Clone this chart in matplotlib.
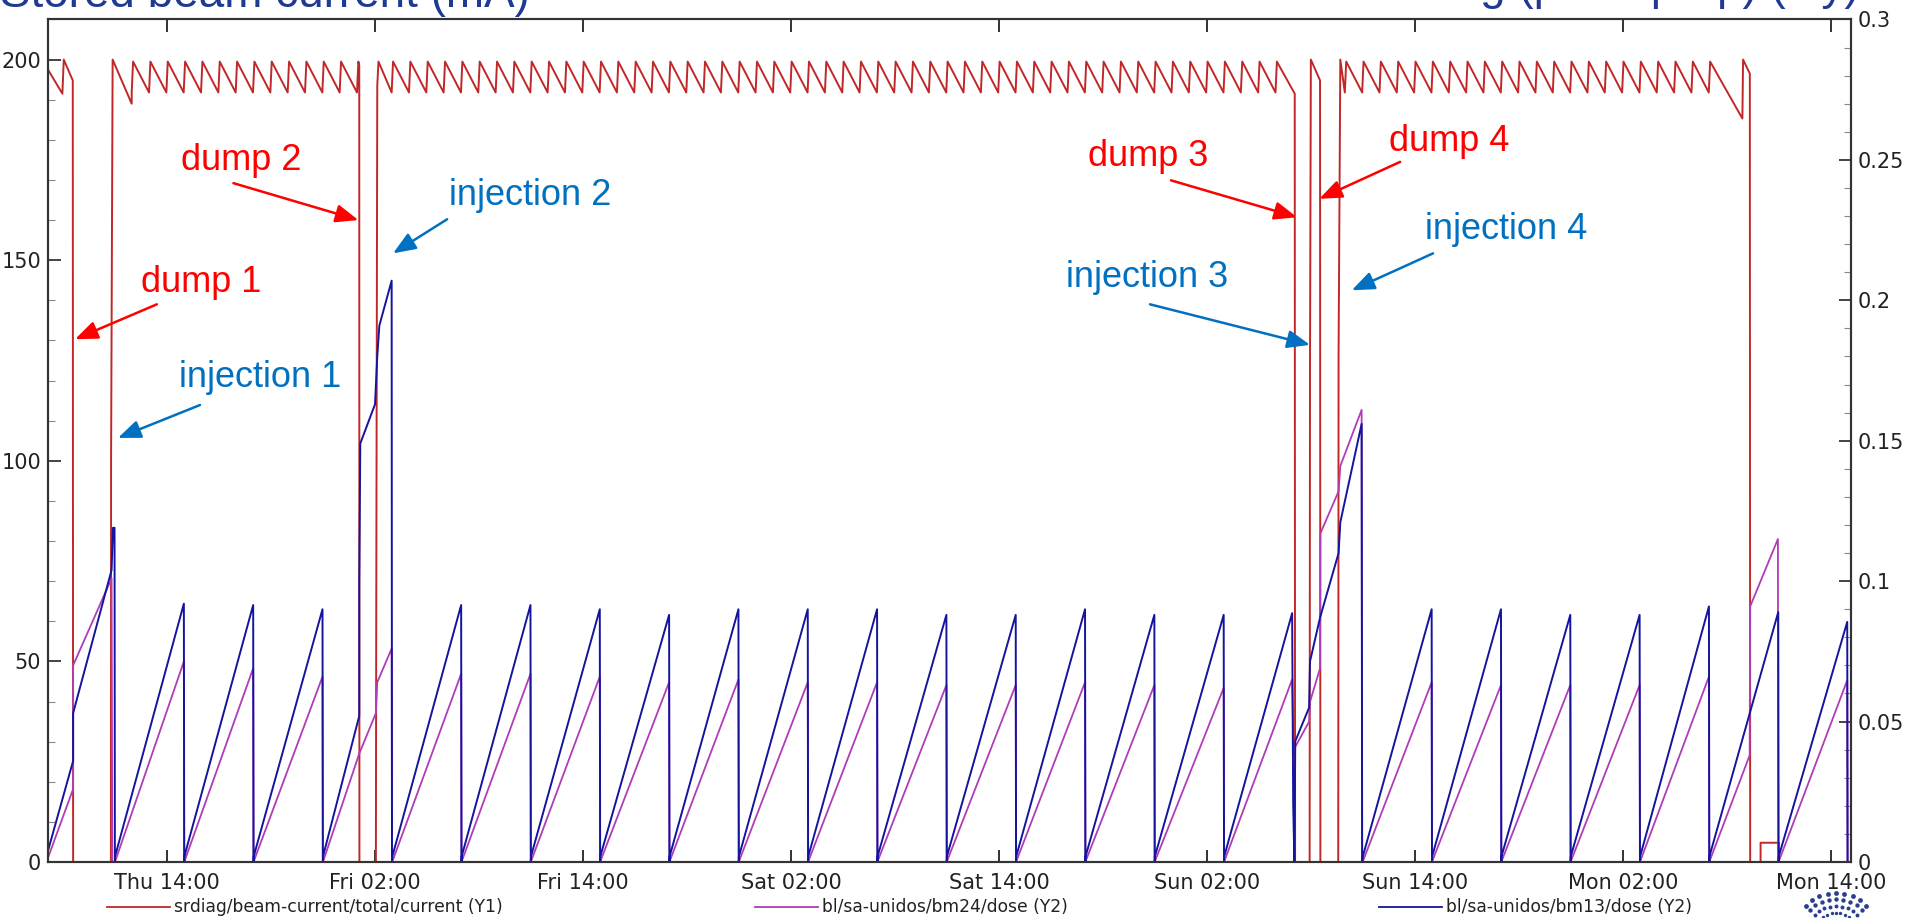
import datetime as dt
import matplotlib
matplotlib.use("Agg")
import matplotlib.pyplot as plt
import matplotlib.dates as mdates
import numpy as np
from matplotlib.lines import Line2D
from matplotlib.ticker import MultipleLocator, FuncFormatter

# hours are counted from Thu 00:00
T0 = dt.datetime(2023, 3, 2)
t_start, t_end = 7.13, 111.17

# ====== beam current (mA) =====
# hourly top-ups inside each fill
topups_fill1 = [12, 13, 14, 15, 16, 17, 18, 19, 20, 21, 22, 23, 24, 25]
topups_fill2 = [27, 28, 29, 30, 31, 32, 33, 34, 35, 36, 37, 38, 39, 40, 41, 42, 43,
                44, 45, 46, 47, 48, 49, 50, 51, 52, 53, 54, 55, 56, 57, 58, 59, 60,
                61, 62, 63, 64, 65, 66, 67, 68, 69, 70, 71, 72, 73, 74, 75, 76, 77, 78]
topups_fill4 = [82, 83, 84, 85, 86, 87, 88, 89, 90, 91, 92, 93, 94, 95, 96, 97, 98,
                99, 100, 101, 102, 103]
peak_current = 199.5
trough_current = 191.8

# pieces between the top-up trains: (hours, mA)
before_dump1 = [(7.13, 197.5), (7.96, 191.5), (8.04, 200), (8.56, 194.8), (8.58, 0),
                (10.76, 0), (10.77, 100), (10.86, 200), (11.96, 189)]
dump2_refill2 = [(25.09, 198.5), (25.10, 0), (26.05, 0), (26.07, 59), (26.13, 193.5),
                 (26.2, 199.5)]
dump3_dump4 = [(79.07, 191.5), (79.09, 0), (79.93, 0), (79.95, 123), (80.0, 200),
               (80.53, 194.8), (80.55, 0), (81.58, 0), (81.6, 127), (81.7, 200)]
end_of_run = [(104.9, 185.3), (104.94, 200), (105.33, 196.5), (105.35, 0), (105.95, 0),
              (105.95, 4.8), (107.0, 4.8), (107.0, 0), (111.17, 0)]

# ====== doses (Y2) =====
bm13_t = [7.13, 8.58, 8.58, 10.80, 10.88, 10.97, 10.99,
          11.0, 14.97, 14.99, 15.0, 18.97, 18.99, 19.0, 22.97, 22.99,
          23.0, 25.09, 25.09, 25.15, 26.0, 26.13, 26.25, 26.96, 26.98,
          27.0, 30.97, 30.99, 31.0, 34.97, 34.99, 35.0, 38.97, 38.99,
          39.0, 42.97, 42.99, 43.0, 46.97, 46.99, 47.0, 50.97, 50.99,
          51.0, 54.97, 54.99, 55.0, 58.97, 58.99, 59.0, 62.97, 62.99,
          63.0, 66.97, 66.99, 67.0, 70.97, 70.99, 71.0, 74.97, 74.99,
          75.0, 78.92, 78.98, 79.05, 79.1, 79.9, 79.95, 80.53, 81.6, 81.7, 82.93, 82.96,
          83.0, 86.97, 86.99, 87.0, 90.97, 90.99, 91.0, 94.97, 94.99,
          95.0, 98.97, 98.99, 99.0, 102.97, 102.99, 103.0, 106.97, 106.99,
          107.0, 110.95, 110.97, 111.17]
bm13_v = [0.004, 0.036, 0.053, 0.104, 0.119, 0.119, 0.0,
          0.002, 0.092, 0.0, 0.002, 0.0915, 0.0, 0.002, 0.090, 0.0,
          0.002, 0.052, 0.099, 0.149, 0.163, 0.180, 0.191, 0.207, 0.0,
          0.002, 0.0915, 0.0, 0.002, 0.0915, 0.0, 0.002, 0.090, 0.0,
          0.002, 0.088, 0.0, 0.002, 0.090, 0.0, 0.002, 0.090, 0.0,
          0.002, 0.090, 0.0, 0.002, 0.088, 0.0, 0.002, 0.088, 0.0,
          0.002, 0.090, 0.0, 0.002, 0.088, 0.0, 0.002, 0.088, 0.0,
          0.002, 0.0886, 0.021, 0.0, 0.043, 0.055, 0.0714, 0.087, 0.110, 0.121, 0.156, 0.0,
          0.002, 0.090, 0.0, 0.002, 0.090, 0.0, 0.002, 0.088, 0.0,
          0.002, 0.088, 0.0, 0.002, 0.091, 0.0, 0.002, 0.089, 0.0,
          0.002, 0.0855, 0.0, 0.0]

bm24_t = [7.13, 8.58, 8.58, 10.80, 10.84, 11.0,
          11.05, 14.97, 14.99, 15.05, 18.97, 18.99, 19.05, 22.97, 22.99,
          23.05, 25.09, 26.05, 26.13, 26.96, 26.98,
          27.05, 30.97, 30.99, 31.05, 34.97, 34.99, 35.05, 38.97, 38.99,
          39.05, 42.97, 42.99, 43.05, 46.97, 46.99, 47.05, 50.97, 50.99,
          51.05, 54.97, 54.99, 55.05, 58.97, 58.99, 59.05, 62.97, 62.99,
          63.05, 66.97, 66.99, 67.05, 70.97, 70.99, 71.05, 74.97, 74.99,
          75.05, 78.92, 79.0, 79.1, 79.9, 79.95, 80.53, 80.55, 81.6, 81.7, 82.93, 82.96,
          83.05, 86.97, 86.99, 87.05, 90.97, 90.99, 91.05, 94.97, 94.99,
          95.05, 98.97, 98.99, 99.05, 102.97, 102.99,
          103.05, 105.32, 105.35, 106.95, 106.97,
          107.05, 110.95, 110.97, 111.17]
bm24_v = [0.0015, 0.026, 0.070, 0.101, 0.0, 0.0,
          0.001, 0.0714, 0.0, 0.001, 0.069, 0.0, 0.001, 0.066, 0.0,
          0.001, 0.0386, 0.053, 0.064, 0.076, 0.0,
          0.001, 0.067, 0.0, 0.001, 0.067, 0.0, 0.001, 0.066, 0.0,
          0.001, 0.064, 0.0, 0.001, 0.065, 0.0, 0.001, 0.064, 0.0,
          0.001, 0.064, 0.0, 0.001, 0.063, 0.0, 0.001, 0.063, 0.0,
          0.001, 0.064, 0.0, 0.001, 0.063, 0.0, 0.001, 0.062, 0.0,
          0.001, 0.065, 0.038, 0.041, 0.050, 0.057, 0.069, 0.117, 0.132, 0.141, 0.161, 0.0,
          0.001, 0.064, 0.0, 0.001, 0.063, 0.0, 0.001, 0.063, 0.0,
          0.001, 0.063, 0.0, 0.001, 0.066, 0.0,
          0.001, 0.038, 0.091, 0.115, 0.0,
          0.001, 0.0647, 0.0, 0.0]

# annotations: label, text position, arrow tail, arrow head (hours, mA)
dump_notes = [("dump 1", (15.96, 144.5), (13.41, 139.0), (8.69, 130.3)),
              ("dump 2", (18.27, 174.8), (17.83, 169.2), (25.04, 160.0)),
              ("dump 3", (70.60, 175.9), (71.93, 169.9), (79.20, 160.7)),
              ("dump 4", (87.98, 179.5), (85.15, 174.5), (80.49, 165.3))]
injection_notes = [("injection 1", (19.37, 120.8), (15.90, 113.9), (11.17, 105.7)),
                   ("injection 2", (34.95, 166.2), (30.16, 160.2), (27.04, 151.7)),
                   ("injection 3", (70.52, 145.6), (70.72, 139.0), (79.95, 128.9)),
                   ("injection 4", (91.29, 157.7), (87.05, 151.7), (82.36, 142.5))]


def when(hours):
    return [T0 + dt.timedelta(hours=h) for h in hours]


def teeth(topups):
    pts = []
    for h in topups:
        pts += [(h - 0.04, trough_current), (h + 0.04, peak_current)]
    return pts


current = (before_dump1 + teeth(topups_fill1) + dump2_refill2 + teeth(topups_fill2)
           + dump3_dump4 + teeth(topups_fill4) + end_of_run)
cur_t = [p[0] for p in current]
cur_v = [p[1] for p in current]

red = "#c02828"
magenta = "#b03cb8"
blue = "#14149c"

W, H = 1909, 918
fig = plt.figure(figsize=(W / 100, H / 100), dpi=100)
ax = fig.add_axes([0.02514, 0.061, 0.9445, 0.9178])
ax2 = ax.twinx()

ax.plot(when(cur_t), cur_v, color=red, lw=1.4)
ax2.plot(when(bm24_t), bm24_v, color=magenta, lw=1.3)
ax2.plot(when(bm13_t), bm13_v, color=blue, lw=1.4)

ax.set_xlim(when([t_start, t_end]))
ax.set_ylim(0, 210)
ax2.set_ylim(0, 0.3)

ax.xaxis.set_major_locator(mdates.HourLocator(byhour=[2, 14]))
ax.xaxis.set_major_formatter(mdates.DateFormatter("%a %H:%M"))
ax.yaxis.set_major_locator(MultipleLocator(50))
ax.yaxis.set_minor_locator(MultipleLocator(10))
ax2.yaxis.set_major_locator(MultipleLocator(0.05))
ax2.yaxis.set_minor_locator(MultipleLocator(0.01))
ax2.yaxis.set_major_formatter(FuncFormatter(lambda v, p: f"{v:g}"))

ax.tick_params(axis="x", which="major", direction="in", top=True, length=9, width=1.3,
               labelsize=15, pad=8, colors="#222222")
ax.tick_params(axis="y", which="major", direction="in", length=9, width=1.2,
               labelsize=15, pad=5, colors="#222222")
ax.tick_params(axis="y", which="minor", direction="in", length=5, width=0.8, colors="#888888")
ax2.tick_params(axis="y", which="major", direction="in", length=9, width=1.2,
                labelsize=15, pad=5, colors="#222222")
ax2.tick_params(axis="y", which="minor", direction="in", length=5, width=0.8, colors="#888888")
for a in (ax, ax2):
    for s in a.spines.values():
        s.set_color("#333333")
        s.set_linewidth(1.5)

# dump / injection labels with arrows
for notes, col in ((dump_notes, "#ff0000"), (injection_notes, "#0070c0")):
    for label, txt, tail, head in notes:
        ax2.text(T0 + dt.timedelta(hours=txt[0]), txt[1], label, transform=ax.transData,
                 color=col, fontsize=26, family="Liberation Sans", ha="center", va="center")
        ax2.annotate("", xy=(mdates.date2num(T0 + dt.timedelta(hours=head[0])), head[1]),
                     xytext=(mdates.date2num(T0 + dt.timedelta(hours=tail[0])), tail[1]),
                     xycoords=ax.transData, textcoords=ax.transData,
                     arrowprops=dict(arrowstyle="-|>,head_length=0.55,head_width=0.22",
                                     color=col, lw=1.8, mutation_scale=25,
                                     shrinkA=0, shrinkB=0))

# legend row under the axis
legend_items = [("srdiag/beam-current/total/current (Y1)", red, 107),
                ("bl/sa-unidos/bm24/dose (Y2)", magenta, 755),
                ("bl/sa-unidos/bm13/dose (Y2)", blue, 1379)]
for label, col, x0 in legend_items:
    y = 1 - 907 / H
    fig.add_artist(Line2D([x0 / W, (x0 + 63) / W], [y, y], color=col, lw=1.3))
    fig.text((x0 + 67) / W, y, label, fontsize=12.3, color="#222222", va="center")

# slide titles, cut by the top of the picture
fig.text(0.0, 1 - 7 / H, "Stored beam current (mA)", fontsize=33, color="#1f3a93",
         family="Liberation Sans", va="baseline")
fig.text(1860 / W, 1 + 1 / H, "Dosimeter reading (per top-up) (Gy)", fontsize=33,
         color="#1f3a93", family="Liberation Sans", va="baseline", ha="right")

# corner logo (dotted half sun), cut by the bottom edge
deco = fig.add_axes([0, 0, 1, 1], facecolor="none")
deco.set_xlim(0, W)
deco.set_ylim(H, 0)
deco.axis("off")
for ang in np.radians([45, 56, 67, 79, 90, 101, 113, 124, 135]):
    for r, s in ((16, 4), (23, 6), (30, 8), (37, 10), (43, 12)):
        deco.scatter(1836 + r * np.cos(ang), 936 - r * np.sin(ang), s=s, color="#2b3f8f",
                     linewidths=0, clip_on=True)

fig.savefig("out.png", dpi=100)
